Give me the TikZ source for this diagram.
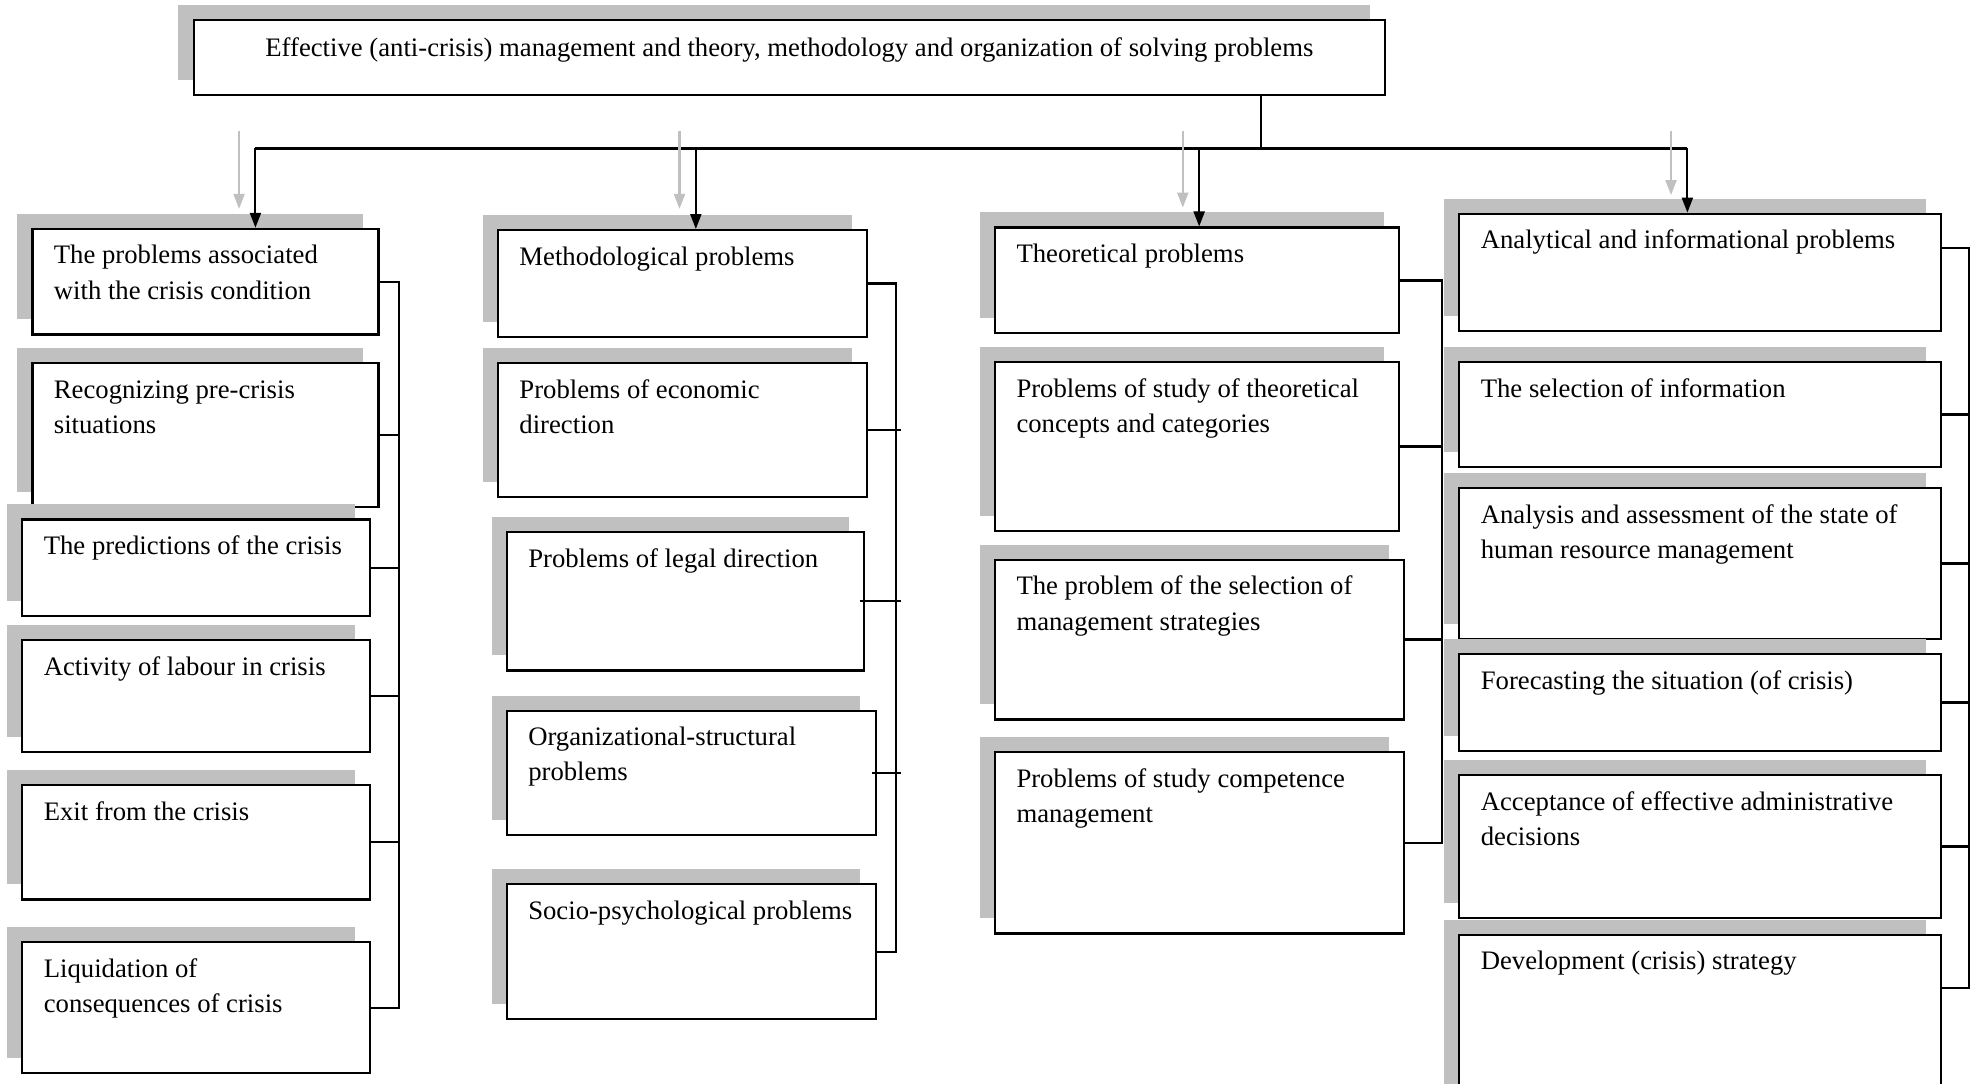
\documentclass[tikz,border=0pt]{standalone}
\usepackage{fontspec}
\setmainfont{Liberation Serif}
\usetikzlibrary{arrows.meta,shadows,calc}
\definecolor{shadegray}{RGB}{192,192,192}
\newdimen\pxu \pxu=0.012583cm
\newcommand{\boxtext}[3]{\parbox[t][#2\pxu][t]{#1\pxu}{\raggedright\leftskip=17\pxu\rule{0pt}{10pt}#3}}

\begin{document}
\begin{tikzpicture}[x=0.012583cm, y=-0.012583cm,
  font=\fontsize{7.6}{10}\selectfont,
  pbox/.style={draw, line width=0.6pt, fill=white, inner sep=0pt, anchor=north west,
    drop shadow={shadow xshift=-0.151cm, shadow yshift=0.151cm, fill=shadegray, opacity=1}},
  conn/.style={line width=0.65pt},
  arr/.style={line width=0.6pt, -{Triangle[width=0.11cm, length=0.15cm]}},
  garr/.style={line width=0.6pt, shadegray, -{Triangle[width=0.11cm, length=0.15cm]}}]

\useasboundingbox (0,0) rectangle (1568,861);

% Draw the main box
\node[pbox] (title) at (153,15) {\parbox[t][60\pxu][t]{947\pxu}{\centering\rule{0pt}{10.4pt}Effective (anti-crisis) management and theory, methodology and organization of solving problems}};

% First column
\node[pbox] (a1) at (25,181) {\boxtext{275}{84}{The problems associated\\with the crisis condition}};
\node[pbox] (a2) at (25,288) {\boxtext{275}{114}{Recognizing pre-crisis\\situations}};
\node[pbox] (a3) at (17,412) {\boxtext{276}{77}{The predictions of the crisis}};
\node[pbox] (a4) at (17,508) {\boxtext{276}{89}{Activity of labour in crisis}};
\node[pbox] (a5) at (17,623) {\boxtext{276}{91}{Exit from the crisis}};
\node[pbox] (a6) at (17,748) {\boxtext{276}{104}{Liquidation of\\consequences of crisis}};

% Second column
\node[pbox] (b1) at (395,182) {\boxtext{293}{85}{Methodological problems}};
\node[pbox] (b2) at (395,288) {\boxtext{293}{106}{Problems of economic\\direction}};
\node[pbox] (b3) at (402,422) {\boxtext{284}{110}{Problems of legal direction}};
\node[pbox] (b4) at (402,564) {\boxtext{293}{99}{Organizational-structural\\problems}};
\node[pbox] (b5) at (402,702) {\boxtext{293}{107}{Socio-psychological problems}};

% Third column
\node[pbox] (c1) at (790,180) {\boxtext{321}{84}{Theoretical problems}};
\node[pbox] (c2) at (790,287) {\boxtext{321}{134}{Problems of study of theoretical\\concepts and categories}};
\node[pbox] (c3) at (790,444) {\boxtext{325}{127}{The problem of the selection of\\management strategies}};
\node[pbox] (c4) at (790,597) {\boxtext{325}{144}{Problems of study competence\\management}};

% Fourth column
\node[pbox] (d1) at (1159,169) {\boxtext{383}{93}{Analytical and informational problems}};
\node[pbox] (d2) at (1159,287) {\boxtext{383}{83}{The selection of information}};
\node[pbox] (d3) at (1159,387) {\boxtext{383}{120}{Analysis and assessment of the state of\\human resource management}};
\node[pbox] (d4) at (1159,519) {\boxtext{383}{77}{Forecasting the situation (of crisis)}};
\node[pbox] (d5) at (1159,615) {\boxtext{383}{114}{Acceptance of effective administrative\\decisions}};
\node[pbox] (d6) at (1159,742) {\boxtext{383}{140}{Development (crisis) strategy}};

% Branch points and buses
\coordinate (hub) at (1002,118);
\coordinate (j1) at (203,118);
\coordinate (j2) at (553,118);
\coordinate (j3) at (953,118);
\coordinate (j4) at (1341,118);
\coordinate (bus1) at (317,224);
\coordinate (bus2) at (712,224);
\coordinate (bus3) at (1146,224);
\coordinate (bus4) at (1565,197);
\coordinate (d1t) at ($(d1.north east)+(0,28)$);
\coordinate (d6t) at ($(d6.north east)+(0,43)$);

% Draw the tree from the main box
\draw[conn] (title.south -| hub) -- (hub);
\draw[conn] (j1) -- (j4);
\draw[arr] (j1) -- (j1 |- a1.north);
\draw[arr] (j2) -- (j2 |- b1.north);
\draw[arr] (j3) -- (j3 |- c1.north);
\draw[arr] (j4) -- (j4 |- d1.north);

% Grey arrows
\coordinate (g1) at (190,104);
\coordinate (g2) at (540,104);
\coordinate (g3) at (940,104);
\coordinate (g4) at (1328,104);
\draw[garr] (g1) -- ($(g1 |- a1.north)+(0,-15)$);
\draw[garr] (g2) -- ($(g2 |- b1.north)+(0,-16)$);
\draw[garr] (g3) -- ($(g3 |- c1.north)+(0,-15)$);
\draw[garr] (g4) -- ($(g4 |- d1.north)+(0,-14)$);

% Connect the first column
\draw[conn] (a1.east) -- (a1.east -| bus1) -- (a6.east -| bus1) -- (a6.east);
\draw[conn] (a2.east) -- (a2.east -| bus1);
\draw[conn] (a3.east) -- (a3.east -| bus1);
\draw[conn] (a4.east) -- (a4.east -| bus1);
\draw[conn] (a5.east) -- (a5.east -| bus1);

% Connect the second column
\draw[conn] (b1.east) -- (b1.east -| bus2) -- (b5.east -| bus2) -- (b5.east);
\draw[conn] (b2.east) -- ([xshift=0.05cm]b2.east -| bus2);
\draw[conn] ([xshift=-0.05cm]b3.east) -- ([xshift=0.05cm]b3.east -| bus2);
\draw[conn] ([xshift=-0.05cm]b4.east) -- ([xshift=0.05cm]b4.east -| bus2);

% Connect the third column
\draw[conn] (c1.east) -- (c1.east -| bus3) -- (c4.east -| bus3) -- (c4.east);
\draw[conn] (c2.east) -- (c2.east -| bus3);
\draw[conn] (c3.east) -- (c3.east -| bus3);

% Connect the fourth column
\draw[conn] (d1t) -- (d1t -| bus4) -- (d6t -| bus4) -- (d6t);
\draw[conn] (d2.east) -- (d2.east -| bus4);
\draw[conn] (d3.east) -- (d3.east -| bus4);
\draw[conn] (d4.east) -- (d4.east -| bus4);
\draw[conn] (d5.east) -- (d5.east -| bus4);

\end{tikzpicture}
\end{document}
